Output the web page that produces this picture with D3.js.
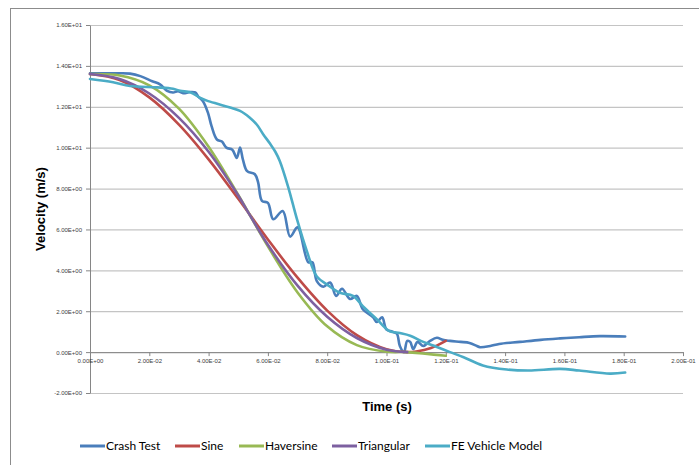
<!DOCTYPE html>
<html>
<head>
<meta charset="utf-8">
<script src="https://cdn.jsdelivr.net/npm/d3@7"></script>
<style>
  body { margin: 0; background: #fff; }
  svg { display: block; }
  .tick text { font-family: "Liberation Sans", Arial, sans-serif; font-size: 6px; fill: #404040; }
  .axis-title { font-family: "Liberation Sans", Arial, sans-serif; font-size: 13px; font-weight: bold; fill: #000; }
  .legend text { font-family: Lato, sans-serif; font-size: 12px; fill: #000; }
</style>
</head>
<body>
<svg width="699" height="465"></svg>
<script>
// series names + colours
const seriesNames = ["Crash Test", "Sine", "Haversine", "Triangular", "FE Vehicle Model"]
const seriesColors = ["#4a7ebb", "#be4b48", "#98b954", "#7d60a0", "#4bacc6"]

// tick values
const xTicks = [0, 0.02, 0.04, 0.06, 0.08, 0.1, 0.12, 0.14, 0.16, 0.18, 0.2]
const yTicks = [-2, 0, 2, 4, 6, 8, 10, 12, 14, 16]

// [time (s), velocity (m/s)]
const crashTest = [
  [0, 13.64], [0.005, 13.64], [0.01, 13.64], [0.0135, 13.62], [0.017, 13.5], [0.021, 13.25],
  [0.0236, 13.1], [0.026, 12.78], [0.028, 12.7], [0.0297, 12.76], [0.0314, 12.66], [0.0337, 12.72],
  [0.0355, 12.7], [0.0365, 12.5], [0.0381, 12.27], [0.0398, 11.7], [0.041, 11.05], [0.0428, 10.4],
  [0.0445, 10.3], [0.046, 10.0], [0.048, 9.9], [0.0495, 9.5], [0.0506, 10.0], [0.0516, 9.4],
  [0.053, 8.85], [0.0556, 8.7], [0.0567, 8.3], [0.058, 7.4], [0.06, 7.3], [0.0618, 6.5],
  [0.065, 6.9], [0.0675, 5.65], [0.07, 6.1], [0.0736, 4.4], [0.075, 4.4], [0.0765, 3.47],
  [0.0787, 3.2], [0.081, 3.4], [0.083, 2.75], [0.085, 3.1], [0.0877, 2.6], [0.09, 2.75],
  [0.092, 2.1], [0.0955, 1.7], [0.0967, 1.47], [0.0985, 1.7], [0.1, 1.1], [0.102, 1.0],
  [0.1035, 0.9], [0.1045, 0.3], [0.1059, 0.0], [0.107, 0.55], [0.108, 0.5], [0.109, 0.15],
  [0.1105, 0.5], [0.1124, 0.3], [0.1147, 0.55], [0.117, 0.7], [0.119, 0.6], [0.1214, 0.55],
  [0.125, 0.5], [0.128, 0.45], [0.1305, 0.3], [0.1315, 0.24], [0.135, 0.3], [0.138, 0.4],
  [0.145, 0.5], [0.152, 0.6], [0.1585, 0.67], [0.165, 0.73], [0.172, 0.78], [0.1805, 0.76]
]
const sine = [
  [0, 13.6], [0.01, 13.31], [0.02, 12.46], [0.03, 11.13], [0.04, 9.43], [0.05, 7.5],
  [0.06, 5.51], [0.07, 3.64], [0.08, 2.03], [0.09, 0.83], [0.1, 0.14], [0.107, 0.0],
  [0.11, 0.03], [0.115, 0.2], [0.12, 0.55]
]
const haversine = [
  [0, 13.6], [0.01, 13.53], [0.02, 13.05], [0.03, 11.91], [0.04, 10.05], [0.05, 7.69],
  [0.06, 5.17], [0.07, 2.92], [0.08, 1.26], [0.09, 0.34], [0.1, 0.02], [0.107, 0.0],
  [0.113, -0.08], [0.12, -0.18]
]
const triangular = [
  [0, 13.6], [0.01, 13.36], [0.02, 12.65], [0.03, 11.46], [0.04, 9.8], [0.05, 7.66],
  [0.0535, 6.8], [0.06, 5.25], [0.07, 3.25], [0.08, 1.73], [0.09, 0.69], [0.1, 0.12], [0.107, 0.0]
]
const feModel = [
  [0, 13.36], [0.0078, 13.2], [0.0135, 13.02], [0.0226, 12.95], [0.028, 12.88], [0.0304, 12.78],
  [0.034, 12.7], [0.037, 12.45], [0.0394, 12.3], [0.044, 12.1], [0.0506, 11.8], [0.054, 11.45],
  [0.0563, 11.12], [0.0584, 10.66], [0.0607, 10.2], [0.0625, 9.8], [0.064, 9.35], [0.0668, 8.1],
  [0.0698, 6.5], [0.073, 5.0], [0.0765, 3.7], [0.08, 3.3], [0.0843, 2.9], [0.0887, 2.75],
  [0.092, 2.25], [0.0968, 1.6], [0.101, 1.03], [0.1045, 0.93], [0.108, 0.8], [0.1124, 0.5],
  [0.117, 0.25], [0.1214, 0.0], [0.126, -0.25], [0.1325, -0.65], [0.1406, -0.85], [0.148, -0.9],
  [0.1585, -0.82], [0.165, -0.9], [0.1754, -1.05], [0.1805, -1.0]
]

const seriesData = [crashTest, sine, haversine, triangular, feModel]

const svg = d3.select("svg")
const width = +svg.attr("width")
const height = +svg.attr("height")

const plot = {left: 90, right: 683, top: 25, bottom: 393}

// excel style 1.60E+01
const fmtE = v => {
  if (v === 0) return "0.00E+00"
  const [m, e] = v.toExponential(2).toUpperCase().split("E")
  const sign = e[0]
  const digits = e.slice(1).padStart(2, "0")
  return `${m}E${sign}${digits}`
}

svg.append("rect")
  .attr("width", width).attr("height", height)
  .attr("fill", "#fff")

// chart border (right / bottom fall outside the picture)
svg.append("rect")
  .attr("x", 10.5).attr("y", 8.5)
  .attr("width", 720).attr("height", 480)
  .attr("fill", "none")
  .attr("stroke", "#8c8c8c")

const xScale = d3.scaleLinear()
  .domain([0, 0.2])
  .range([plot.left, plot.right])

const yScale = d3.scaleLinear()
  .domain([-2, 16])
  .range([plot.bottom, plot.top])

// gridlines
const gridG = svg.append("g")
  .attr("transform", `translate(${plot.left}, 0)`)
  .call(d3.axisLeft(yScale).tickValues(yTicks).tickSize(-(plot.right - plot.left)).tickFormat(""))
gridG.select(".domain").remove()
gridG.selectAll(".tick line")
  .attr("stroke", "#c4c4c4")
  .attr("stroke-width", 1.2)

// y axis
const yAxisG = svg.append("g")
  .attr("transform", `translate(${plot.left}, 0)`)
  .call(d3.axisLeft(yScale).tickValues(yTicks).tickSize(4).tickSizeOuter(0).tickPadding(4).tickFormat(fmtE))
yAxisG.selectAll("path, line").attr("stroke", "#868686")

// x axis sits on zero
const xAxisG = svg.append("g")
  .attr("transform", `translate(0, ${yScale(0)})`)
  .call(d3.axisBottom(xScale).tickValues(xTicks).tickSize(4).tickSizeOuter(0).tickPadding(3).tickFormat(fmtE))
xAxisG.selectAll("path, line").attr("stroke", "#868686")

// axis titles
svg.append("text")
  .attr("class", "axis-title")
  .attr("transform", `translate(45, ${(yScale(16) + yScale(-2)) / 2}) rotate(-90)`)
  .attr("text-anchor", "middle")
  .text("Velocity (m/s)")

svg.append("text")
  .attr("class", "axis-title")
  .attr("x", 387)
  .attr("y", 411)
  .attr("text-anchor", "middle")
  .text("Time (s)")

// lines
const line = d3.line()
  .x(d => xScale(d[0]))
  .y(d => yScale(d[1]))
  .curve(d3.curveCatmullRom.alpha(0.5))

svg.append("g")
  .selectAll("path")
  .data(seriesData)
  .enter().append("path")
  .attr("d", line)
  .attr("fill", "none")
  .attr("stroke", (d, i) => seriesColors[i])
  .attr("stroke-width", 2.6)
  .attr("stroke-linejoin", "round")
  .attr("stroke-linecap", "round")

// legend
const legendX = [80, 175, 239, 332, 425]
const legend = svg.append("g")
  .attr("class", "legend")
  .attr("transform", "translate(0, 446)")

const item = legend.selectAll("g")
  .data(seriesNames)
  .enter().append("g")
  .attr("transform", (d, i) => `translate(${legendX[i]}, 0)`)

item.append("line")
  .attr("x1", 0).attr("x2", 25)
  .attr("stroke", (d, i) => seriesColors[i])
  .attr("stroke-width", 3)

item.append("text")
  .attr("x", 26)
  .attr("dy", "0.35em")
  .text(d => d)
</script>
</body>
</html>
